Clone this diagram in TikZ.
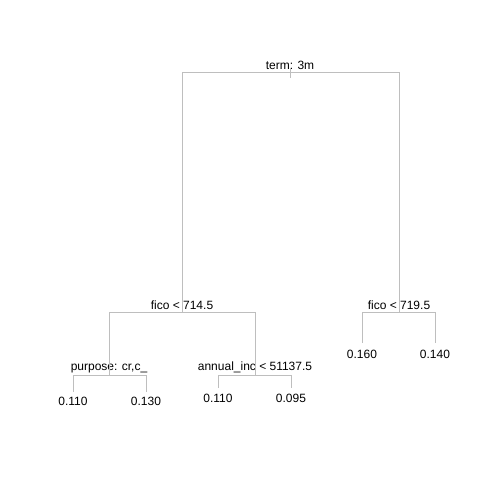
\documentclass[tikz,border=0pt]{standalone}
\usepackage{fontspec}
\setmainfont{Liberation Sans}
\usetikzlibrary{positioning}
\definecolor{treeGray}{HTML}{BEBEBE}

\begin{document}
\begin{tikzpicture}[x=1pt, y=-1pt,
  every node/.style={font=\fontsize{12}{14}\selectfont, inner sep=0pt},
  split/.style={anchor=base},
  leaf/.style={anchor=base},
  branch/.style={treeGray, line width=1pt},
]
\useasboundingbox (0,0) rectangle (480,480);

% Joints
\coordinate (rootTop) at (290,68);
\coordinate (root) at (290,78);
\coordinate (rootL) at (182,72);
\coordinate (rootR) at (399,72);
\coordinate (ficoL) at (182,312);
\coordinate (ficoR) at (399,312);
\coordinate (purp) at (109,375);
\coordinate (annInc) at (255,375);

% Split labels
\node[split] (termLab) at (290,69) {term: 3m};
\node[split] (ficoLLab) at (182,309) {fico < 714.5};
\node[split] (ficoRLab) at (399,309) {fico < 719.5};
\node[split] (purpLab) at (109,370) {purpose: cr,c\_};
\node[split] (annLab) at (255,370) {annual\_inc < 51137.5};

% Leaves
\node[leaf] (leafA) at (73,405) {0.110};
\node[leaf] (leafB) at (146,405) {0.130};
\node[leaf] (leafC) at (218,402) {0.110};
\node[leaf] (leafD) at (291,402) {0.095};
\node[leaf] (leafE) at (362,358) {0.160};
\node[leaf] (leafF) at (435,358) {0.140};

% Branches
\draw[branch] (rootTop) -- (root);
\draw[branch] (ficoL) -- (rootL) -- (rootR) -- (ficoR);
\draw[branch] (purp) -- (purp |- ficoL) -- (annInc |- ficoL) -- (annInc);
\draw[branch] (leafE.north |- 0,343) -- (leafE.north |- ficoR) -- (leafF.north |- ficoR) -- (leafF.north |- 0,343);
\draw[branch] (leafA.north |- 0,392) -- (leafA.north |- purp) -- (leafB.north |- purp) -- (leafB.north |- 0,392);
\draw[branch] (leafC.north |- 0,388) -- (leafC.north |- annInc) -- (leafD.north |- annInc) -- (leafD.north |- 0,388);

\end{tikzpicture}
\end{document}
